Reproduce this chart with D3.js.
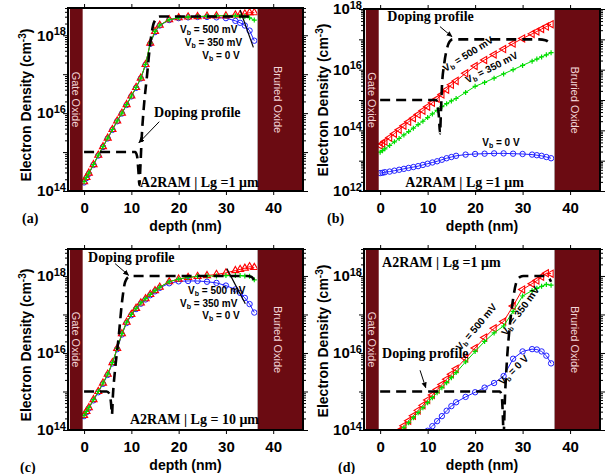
<!DOCTYPE html>
<html>
<head>
<meta charset="utf-8">
<script src="https://cdn.jsdelivr.net/npm/d3@7"></script>
<style>
body { margin: 0; background: #fff; }
svg { display: block; }
.tick text { font-family: "Liberation Sans", Arial, sans-serif; font-weight: bold; font-size: 15px; }
.ylab { font-family: "Liberation Sans", Arial, sans-serif; font-weight: bold; font-size: 15px; }
.axtitle { font-family: "Liberation Sans", Arial, sans-serif; font-weight: bold; font-size: 14px; }
.vb { font-family: "Liberation Sans", Arial, sans-serif; font-weight: bold; font-size: 10px; }
.ann { font-family: "Liberation Serif", "Times New Roman", serif; font-weight: bold; font-size: 14px; }
.oxide { font-family: "Liberation Sans", Arial, sans-serif; font-size: 11px; fill: #f3d6d8; }
</style>
</head>
<body>
<svg id="chart" width="610" height="474"></svg>
<script>
// depth grid (nm) of the simulated profiles
var depth = [0,0.5,1,2,3,4,5,6,7,8,9,10,11,12,13,14,15,16,18,20,22,24,26,28,30,32,33,34,35,36];

// electron density as log10(cm^-3), one array per bias and panel
var a500 = [14.24,14.35,14.46,14.68,14.92,15.14,15.36,15.58,15.80,16.00,16.22,16.44,16.66,16.90,17.25,17.80,18.10,18.26,18.40,18.45,18.47,18.48,18.49,18.50,18.50,18.52,18.53,18.55,18.58,18.58];
var a350 = [14.24,14.35,14.46,14.68,14.92,15.14,15.36,15.58,15.80,16.00,16.22,16.44,16.66,16.90,17.25,17.80,18.10,18.26,18.40,18.45,18.47,18.48,18.49,18.50,18.50,18.50,18.49,18.48,18.45,18.39];
var a0   = [14.22,14.33,14.44,14.67,14.91,15.13,15.35,15.57,15.79,15.99,16.21,16.43,16.65,16.89,17.24,17.78,18.08,18.25,18.39,18.44,18.46,18.47,18.47,18.46,18.44,18.37,18.32,18.25,18.12,17.86];

var b500 = [13.50,13.56,13.63,13.76,13.89,14.02,14.15,14.28,14.40,14.52,14.65,14.78,14.91,15.04,15.18,15.34,15.50,15.63,15.88,16.12,16.32,16.50,16.68,16.86,17.03,17.18,17.26,17.34,17.42,17.50];
var b350 = [13.28,13.33,13.39,13.50,13.62,13.73,13.85,13.96,14.07,14.19,14.30,14.42,14.54,14.66,14.78,14.88,14.97,15.05,15.25,15.45,15.58,15.72,15.86,16.00,16.14,16.28,16.35,16.42,16.49,16.56];
var b0   = [12.59,12.60,12.62,12.64,12.67,12.70,12.73,12.76,12.79,12.82,12.86,12.90,12.94,12.98,13.03,13.08,13.12,13.16,13.20,13.22,13.23,13.24,13.24,13.23,13.22,13.20,13.18,13.16,13.12,13.08];

var c500 = [14.38,14.48,14.58,14.79,15.00,15.22,15.45,15.75,16.12,16.50,16.80,17.00,17.16,17.30,17.41,17.52,17.62,17.71,17.85,17.92,17.96,17.99,18.01,18.04,18.08,18.14,18.17,18.20,18.24,18.22];
var c350 = [14.38,14.48,14.58,14.79,15.00,15.22,15.45,15.75,16.12,16.50,16.80,17.00,17.16,17.30,17.41,17.52,17.62,17.71,17.85,17.92,17.96,17.99,18.00,18.00,18.01,18.01,18.01,18.00,17.99,17.90];
var c0   = [14.36,14.46,14.56,14.77,14.98,15.20,15.43,15.73,16.10,16.48,16.78,16.98,17.14,17.28,17.39,17.50,17.60,17.69,17.81,17.86,17.87,17.87,17.85,17.82,17.75,17.65,17.56,17.43,17.27,17.05];

var d500 = [13.45,13.52,13.58,13.72,13.85,13.98,14.11,14.24,14.37,14.51,14.64,14.78,14.91,15.05,15.18,15.32,15.45,15.59,15.86,16.13,16.40,16.64,16.82,17.22,17.65,17.80,17.88,17.98,18.07,18.06];
var d350 = [13.41,13.47,13.54,13.67,13.80,13.93,14.06,14.19,14.32,14.45,14.58,14.71,14.84,14.97,15.10,15.23,15.36,15.49,15.77,16.04,16.30,16.52,16.70,17.08,17.48,17.62,17.68,17.73,17.78,17.76];
var d0   = [12.75,12.81,12.87,13.00,13.12,13.25,13.37,13.50,13.62,13.74,13.86,13.98,14.10,14.23,14.36,14.50,14.62,14.72,14.86,14.98,15.10,15.22,15.40,15.85,16.04,16.10,16.09,16.04,15.93,15.73];

// doping profiles: depth (nm) and log10 |net doping|
var dopADepth = [0,10.8,11.2,11.5,11.7,11.9,12.2,12.6,13.3,14.0,14.8,16.0,36];
var dopALog   = [15,15,14.9,14.5,14.15,14.6,15.4,16.1,16.95,17.8,18.33,18.48,18.48];
var dopBDepth = [0,11.8,12.1,12.4,12.6,12.8,13.0,13.5,14.0,14.6,15.3,33.5,34.8,35.6,36];
var dopBLog   = [15,15,14.85,14.4,13.9,14.6,15.4,16.2,16.65,16.92,17.0,17.0,16.97,16.88,16.78];
var dopCDepth = [0,4.8,5.3,5.7,5.9,6.1,6.5,7.3,8.0,8.7,9.5,10.5,34.5,35.5,36];
var dopCLog   = [15,15,14.95,14.7,14.4,14.9,15.5,16.4,17.3,17.85,17.98,18.0,18.0,17.97,17.88];
var dopDDepth = [0,25.2,25.6,25.8,26.0,26.3,26.7,27.3,28.0,28.6,29.4,30.2,34.5,35.5,36];
var dopDLog   = [15,15,14.9,14.5,13.9,14.9,15.8,16.7,17.4,17.8,17.97,18.0,18.0,17.95,17.85];

var xTicks = [0, 10, 20, 30, 40];
var xDomain = [-3.4, 46.3];
var gateOxide = [-3.0, -0.3];
var buriedOxide = [36.7, 46.3];

var panels = [
  {tag: "(a)", left: 68, right: 303, top: 8, bottom: 191, yExp: [14, 18.7], yLabels: [14, 16, 18],
   v0: a0, v350: a350, v500: a500, dopD: dopADepth, dopV: dopALog, tri: 0,
   titleX: 31, titleY: 105, tagX: 22, tagY: 223,
   texts: [{t: "Doping profile", d: 14.8, v: 15.89}, {t: "A2RAM | Lg =1 μm", d: 11.85, v: 14.10}],
   vbs: [{t: "500 mV", d: 20.3, v: 18.07, a: 0}, {t: "350 mV", d: 21.3, v: 17.73, a: 0}, {t: "0 V", d: 25.0, v: 17.39, a: 0}],
   arrows: [[15.9, 15.78, 11.6, 15.24]], lines: [[33.0, 18.65, 35.8, 17.69]]},
  {tag: "(b)", left: 364, right: 600, top: 9, bottom: 191, yExp: [12, 18], yLabels: [12, 14, 16, 18],
   v0: b0, v350: b350, v500: b500, dopD: dopBDepth, dopV: dopBLog, tri: -90,
   titleX: 328, titleY: 100, tagX: 327, tagY: 223,
   texts: [{t: "Doping profile", d: 1.5, v: 17.6}, {t: "A2RAM | Lg =1 μm", d: 5.3, v: 12.13}],
   vbs: [{t: "500 mV", d: 18.9, v: 16.42, a: -32, mid: true}, {t: "350 mV", d: 23.8, v: 15.97, a: -27, mid: true}, {t: "0 V", d: 21.5, v: 13.48, a: 0}],
   arrows: [[12.6, 17.42, 15.1, 17.09]], lines: []},
  {tag: "(c)", left: 68, right: 303, top: 249, bottom: 430, yExp: [14, 18.7], yLabels: [14, 16, 18],
   v0: c0, v350: c350, v500: c500, dopD: dopCDepth, dopV: dopCLog, tri: 0,
   titleX: 31, titleY: 345, tagX: 20, tagY: 472,
   texts: [{t: "Doping profile", d: 0.85, v: 18.36}, {t: "A2RAM | Lg = 10 μm", d: 9.7, v: 14.16}],
   vbs: [{t: "500 mV", d: 22.0, v: 17.52, a: 0}, {t: "350 mV", d: 20.3, v: 17.2, a: 0}, {t: "0 V", d: 25.0, v: 16.88, a: 0}],
   arrows: [[6.56, 18.32, 9.4, 18.02]], lines: [[30.2, 18.19, 34.1, 17.28]]},
  {tag: "(d)", left: 364, right: 600, top: 249, bottom: 430, yExp: [14, 18.7], yLabels: [14, 16, 18],
   v0: d0, v350: d350, v500: d500, dopD: dopDDepth, dopV: dopDLog, tri: -90,
   titleX: 328, titleY: 341, tagX: 338, tagY: 472,
   texts: [{t: "A2RAM | Lg =1 μm", d: 0.4, v: 18.23}, {t: "Doping profile", d: 0.4, v: 15.87}],
   vbs: [{t: "500 mV", d: 20.8, v: 16.62, a: -50, mid: true}, {t: "350 mV", d: 30.1, v: 17.04, a: -54, mid: true}, {t: "0 V", d: 28.6, v: 15.5, a: -45, mid: true}],
   arrows: [[8.4, 15.55, 9.6, 15.1]], lines: []}
];

var svg = d3.select("#chart");
var defs = svg.append("defs");
defs.append("marker")
    .attr("id", "arrow")
    .attr("viewBox", "0 -4 8 8")
    .attr("refX", 7).attr("refY", 0)
    .attr("markerWidth", 6).attr("markerHeight", 6)
    .attr("orient", "auto")
  .append("path")
    .attr("d", "M0,-3.5L8,0L0,3.5Z")
    .attr("fill", "#000");

var pow10 = function(e) { return Math.pow(10, e); };

panels.forEach(function(p, pi) {
    var x = d3.scaleLinear().domain(xDomain).range([p.left, p.right]);
    var y = d3.scaleLog().domain([pow10(p.yExp[0]), pow10(p.yExp[1])]).range([p.bottom, p.top]);
    var g = svg.append("g");

    defs.append("clipPath").attr("id", "clip" + pi)
      .append("rect")
        .attr("x", p.left).attr("y", p.top)
        .attr("width", p.right - p.left).attr("height", p.bottom - p.top);

    var plot = g.append("g").attr("clip-path", "url(#clip" + pi + ")");

    var line = d3.line()
        .x(function(d) { return x(d[0]); })
        .y(function(d) { return y(pow10(d[1])); });

    var series = [
        {vals: p.v0, color: "#2020ff", mark: "circle"},
        {vals: p.v500, color: "#ff0000", mark: "tri"},
        {vals: p.v350, color: "#00dd00", mark: "plus"}
    ];
    series.forEach(function(s) {
        var pts = depth.map(function(d, i) { return [d, s.vals[i]]; });
        plot.append("path")
            .datum(pts)
            .attr("fill", "none")
            .attr("stroke", s.color)
            .attr("stroke-width", 1)
            .attr("d", line);
        var m = plot.selectAll(null).data(pts).enter();
        if (s.mark == "circle") {
            m.append("circle")
                .attr("cx", function(d) { return x(d[0]); })
                .attr("cy", function(d) { return y(pow10(d[1])); })
                .attr("r", 2.7)
                .attr("fill", "none").attr("stroke", s.color).attr("stroke-width", 1);
        } else if (s.mark == "tri") {
            m.append("path")
                .attr("d", d3.symbol().type(d3.symbolTriangle).size(22))
                .attr("transform", function(d) { return "translate(" + x(d[0]) + "," + y(pow10(d[1])) + ") rotate(" + p.tri + ")"; })
                .attr("fill", "none").attr("stroke", s.color).attr("stroke-width", 1.1);
        } else {
            m.append("path")
                .attr("d", "M-2.5,0H2.5M0,-2.5V2.5")
                .attr("transform", function(d) { return "translate(" + x(d[0]) + "," + y(pow10(d[1])) + ")"; })
                .attr("stroke", s.color).attr("stroke-width", 1.2);
        }
    });

    // doping profile
    var dop = p.dopD.map(function(d, i) { return [d, p.dopV[i]]; });
    plot.append("path")
        .datum(dop)
        .attr("fill", "none")
        .attr("stroke", "#000")
        .attr("stroke-width", 2.6)
        .attr("stroke-dasharray", "10,6")
        .attr("d", line.curve(d3.curveMonotoneX));
    line.curve(d3.curveLinear);

    // oxide regions
    plot.append("rect")
        .attr("x", x(gateOxide[0])).attr("y", p.top)
        .attr("width", x(gateOxide[1]) - x(gateOxide[0])).attr("height", p.bottom - p.top)
        .attr("fill", "#6b0b12");
    plot.append("rect")
        .attr("x", x(buriedOxide[0])).attr("y", p.top)
        .attr("width", x(buriedOxide[1]) - x(buriedOxide[0])).attr("height", p.bottom - p.top)
        .attr("fill", "#6b0b12").attr("stroke", "#aaa").attr("stroke-width", 0.6);
    var midY = (p.top + p.bottom) / 2;
    g.append("text").attr("class", "oxide")
        .attr("transform", "translate(" + (x((gateOxide[0] + gateOxide[1]) / 2) - 4) + "," + midY + ") rotate(90)")
        .attr("text-anchor", "middle")
        .text("Gate  Oxide");
    g.append("text").attr("class", "oxide")
        .attr("transform", "translate(" + (x(41.0) - 4) + "," + midY + ") rotate(90)")
        .attr("text-anchor", "middle")
        .text("Bruried Oxide");

    // annotations
    p.texts.forEach(function(a) {
        g.append("text").attr("class", "ann")
            .attr("x", x(a.d)).attr("y", y(pow10(a.v)))
            .text(a.t);
    });
    p.vbs.forEach(function(a) {
        var t = g.append("text").attr("class", "vb")
            .attr("transform", "translate(" + x(a.d) + "," + y(pow10(a.v)) + ") rotate(" + a.a + ")")
            .attr("text-anchor", a.mid ? "middle" : "start");
        t.append("tspan").text("V");
        t.append("tspan").attr("dy", 2).attr("font-size", "7px").text("b");
        t.append("tspan").attr("dy", -2).text(" = " + a.t);
    });
    p.arrows.forEach(function(a) {
        g.append("line")
            .attr("x1", x(a[0])).attr("y1", y(pow10(a[1])))
            .attr("x2", x(a[2])).attr("y2", y(pow10(a[3])))
            .attr("stroke", "#000").attr("stroke-width", 1)
            .attr("marker-end", "url(#arrow)");
    });
    p.lines.forEach(function(a) {
        g.append("line")
            .attr("x1", x(a[0])).attr("y1", y(pow10(a[1])))
            .attr("x2", x(a[2])).attr("y2", y(pow10(a[3])))
            .attr("stroke", "#000").attr("stroke-width", 1.2);
    });

    // axes
    var majors = d3.range(Math.ceil(p.yExp[0]), Math.floor(p.yExp[1]) + 1).map(pow10);
    var minors = [];
    d3.range(Math.floor(p.yExp[0]), Math.ceil(p.yExp[1])).forEach(function(e) {
        for (var k = 2; k < 10; k++) {
            var v = k * pow10(e);
            if (v <= pow10(p.yExp[1])) minors.push(v);
        }
    });
    [[d3.axisLeft, p.left], [d3.axisRight, p.right]].forEach(function(ax) {
        g.append("g").attr("transform", "translate(" + ax[1] + ",0)")
            .call(ax[0](y).tickValues(majors).tickSize(5).tickSizeOuter(0).tickFormat(""))
            .call(function(s) { s.select(".domain").remove(); });
        g.append("g").attr("transform", "translate(" + ax[1] + ",0)")
            .call(ax[0](y).tickValues(minors).tickSize(3).tickSizeOuter(0).tickFormat(""))
            .call(function(s) { s.select(".domain").remove(); });
    });
    g.append("g").attr("transform", "translate(0," + p.bottom + ")")
        .call(d3.axisBottom(x).tickValues(xTicks).tickSize(4).tickPadding(7).tickSizeOuter(0))
        .call(function(s) { s.select(".domain").remove(); });
    g.append("g").attr("transform", "translate(0," + p.top + ")")
        .call(d3.axisTop(x).tickValues(xTicks).tickSize(4).tickSizeOuter(0).tickFormat(""))
        .call(function(s) { s.select(".domain").remove(); });

    g.append("rect")
        .attr("x", p.left).attr("y", p.top)
        .attr("width", p.right - p.left).attr("height", p.bottom - p.top)
        .attr("fill", "none").attr("stroke", "#000").attr("stroke-width", 2);

    var yl = g.selectAll(".ylab").data(p.yLabels).enter()
        .append("text").attr("class", "ylab")
        .attr("x", p.left - 2)
        .attr("y", function(d) { return y(pow10(d)); })
        .attr("dy", "0.35em")
        .attr("text-anchor", "end");
    yl.append("tspan").text("10");
    yl.append("tspan").attr("dy", "-0.5em").attr("font-size", "11px").text(function(d) { return d; });

    var yt = g.append("text").attr("class", "axtitle")
        .attr("transform", "translate(" + p.titleX + "," + p.titleY + ") rotate(-90)")
        .attr("text-anchor", "middle");
    yt.append("tspan").text("Electron Density (cm");
    yt.append("tspan").attr("dy", -5).attr("font-size", "10px").text("-3");
    yt.append("tspan").attr("dy", 5).text(")");

    g.append("text").attr("class", "axtitle")
        .attr("x", (p.left + p.right) / 2).attr("y", p.bottom + 40)
        .attr("text-anchor", "middle")
        .text("depth (nm)");

    g.append("text").attr("class", "ann")
        .attr("x", p.tagX).attr("y", p.tagY)
        .text(p.tag);
});
</script>
</body>
</html>
